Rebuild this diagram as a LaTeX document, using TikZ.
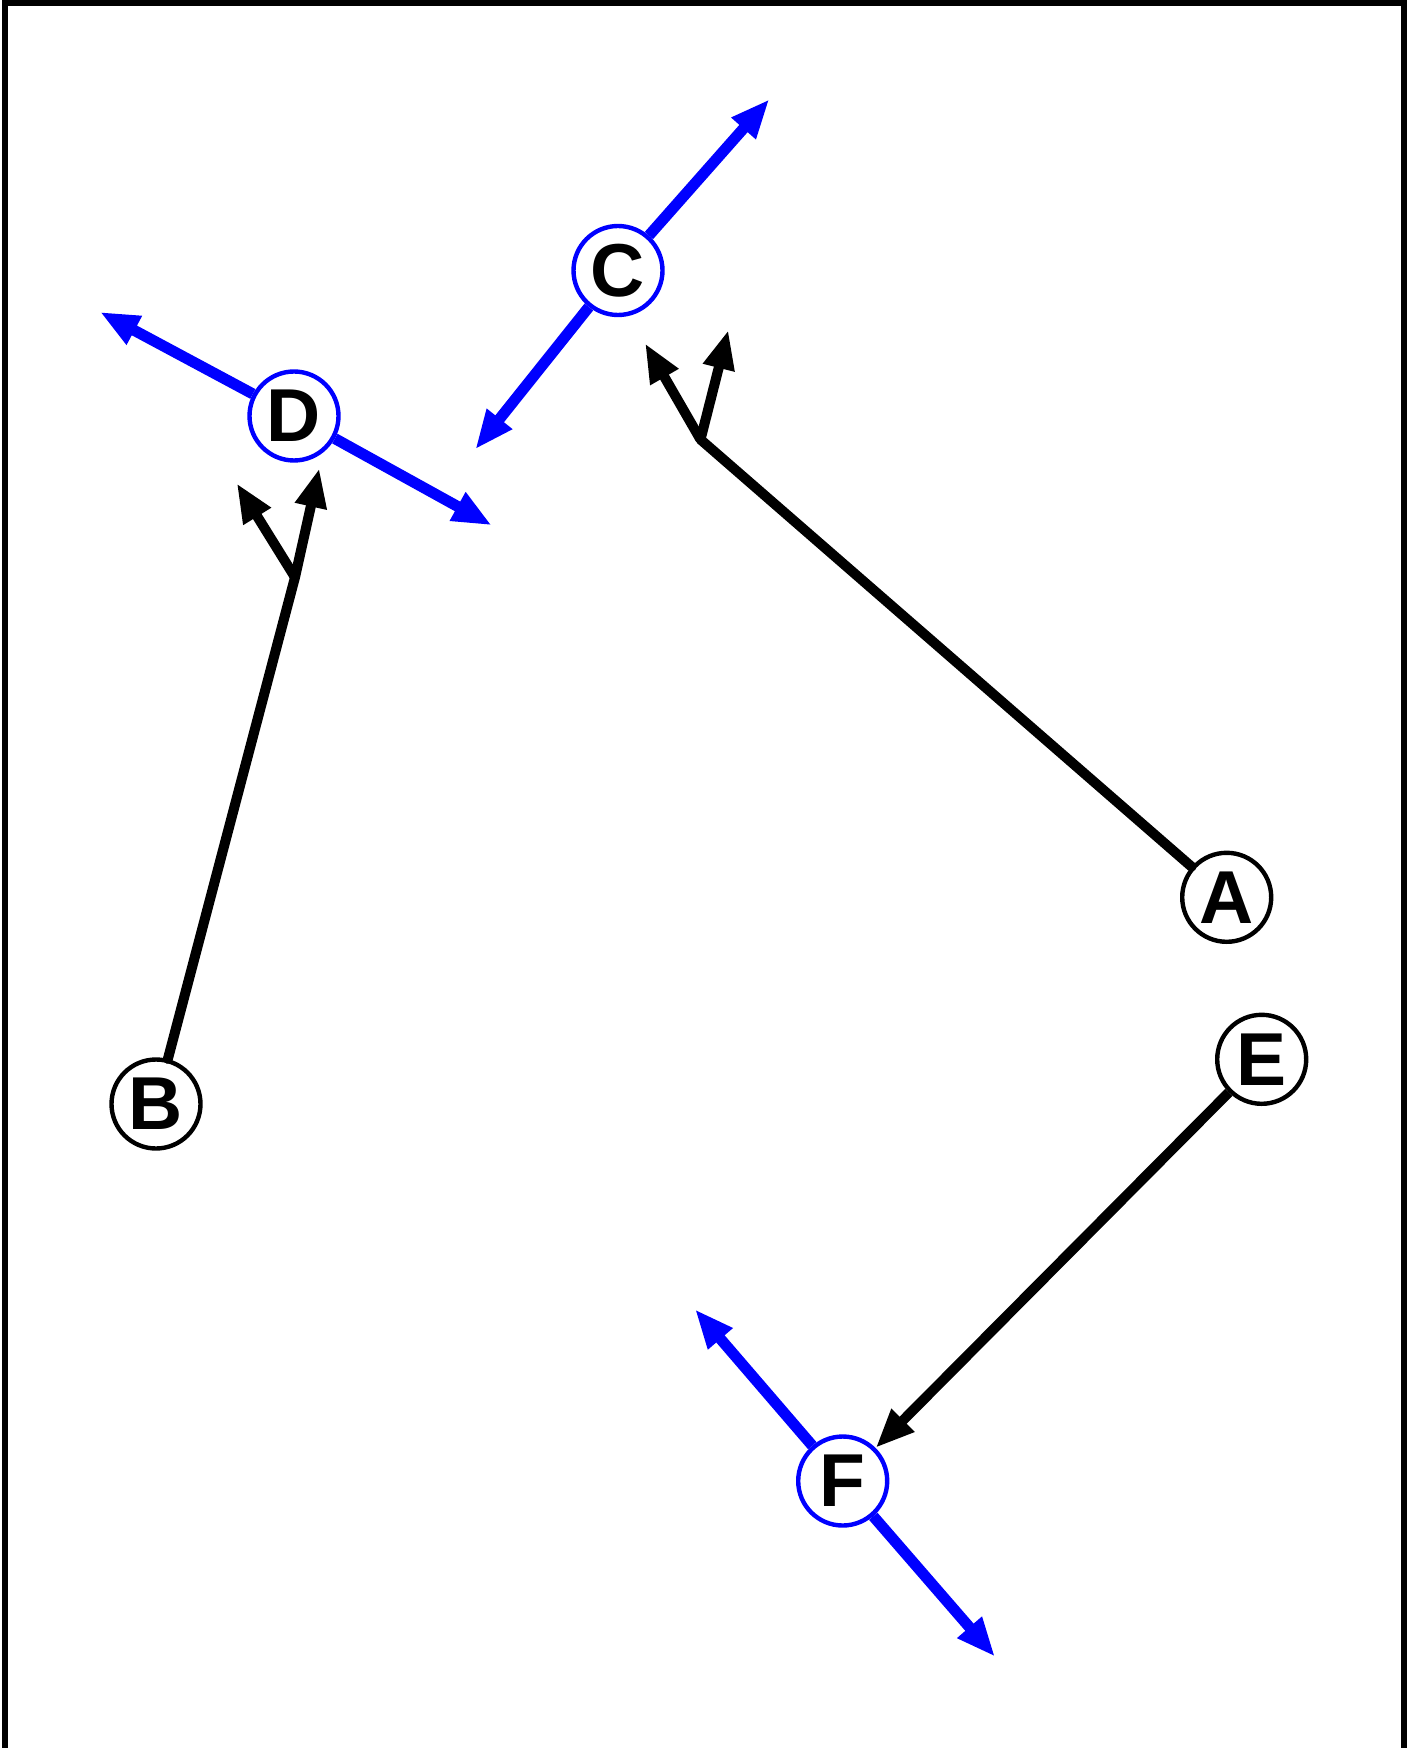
\documentclass[tikz,border=0pt]{standalone}
\usepackage{fontspec}
\setmainfont{Liberation Sans}
\usetikzlibrary{arrows.meta}
\begin{document}
\begin{tikzpicture}[x=0.5pt,y=-0.5pt,
  vnode/.style={circle,draw=black,line width=2.2pt,minimum size=44.5pt,inner sep=0pt,fill=white,
    font=\fontsize{37.5}{40}\selectfont\bfseries},
  bnode/.style={vnode,draw=blue},
  tip/.style={-{Triangle[length=19.5pt,width=15pt]}},
  bluearrow/.style={tip,draw=blue,fill=blue,line width=5.5pt},
  blackarrow/.style={tip,draw=black,fill=black,line width=5pt},
  blackline/.style={draw=black,line width=5pt,line cap=round}]
\useasboundingbox (0,0) rectangle (1416,1748);
\draw[line width=3pt] (5,1760) -- (5,3.5) -- (1404,3.5) -- (1404,1760);

% free ends
\coordinate (c1) at (769.3,99.3);
\coordinate (c2) at (475.3,449.3);
\coordinate (d1) at (100,312);
\coordinate (d2) at (491.7,525.3);
\coordinate (f1) at (695,1309.3);
\coordinate (f2) at (995,1656.7);
\coordinate (p1) at (700.5,439.5);
\coordinate (p1a) at (645,343.3);
\coordinate (p1b) at (728.3,330);
\coordinate (p2) at (295,577.3);
\coordinate (p2a) at (236.7,483.3);
\coordinate (p2b) at (319.3,468.3);

% nodes
\node[bnode] (C) at (618,270.5) {C};
\node[bnode] (D) at (294,416) {D};
\node[vnode] (A) at (1226.7,897.3) {A};
\node[vnode] (E) at (1261.7,1059.3) {E};
\node[bnode] (F) at (842.7,1481) {F};
\node[vnode] (B) at (156,1104) {B};

% blue arrows
\draw[bluearrow] (C) -- (c1);
\draw[bluearrow] (C) -- (c2);
\draw[bluearrow] (D) -- (d1);
\draw[bluearrow] (D) -- (d2);
\draw[bluearrow] (F) -- (f1);
\draw[bluearrow] (F) -- (f2);

% black lines and arrows
\draw[blackline] (A) -- (p1);
\draw[blackarrow] (p1) -- (p1a);
\draw[blackarrow] (p1) -- (p1b);
\draw[blackline] (B) -- (p2);
\draw[blackarrow] (p2) -- (p2a);
\draw[blackarrow] (p2) -- (p2b);
\draw[blackarrow] (E) -- (F);
\end{tikzpicture}
\end{document}
